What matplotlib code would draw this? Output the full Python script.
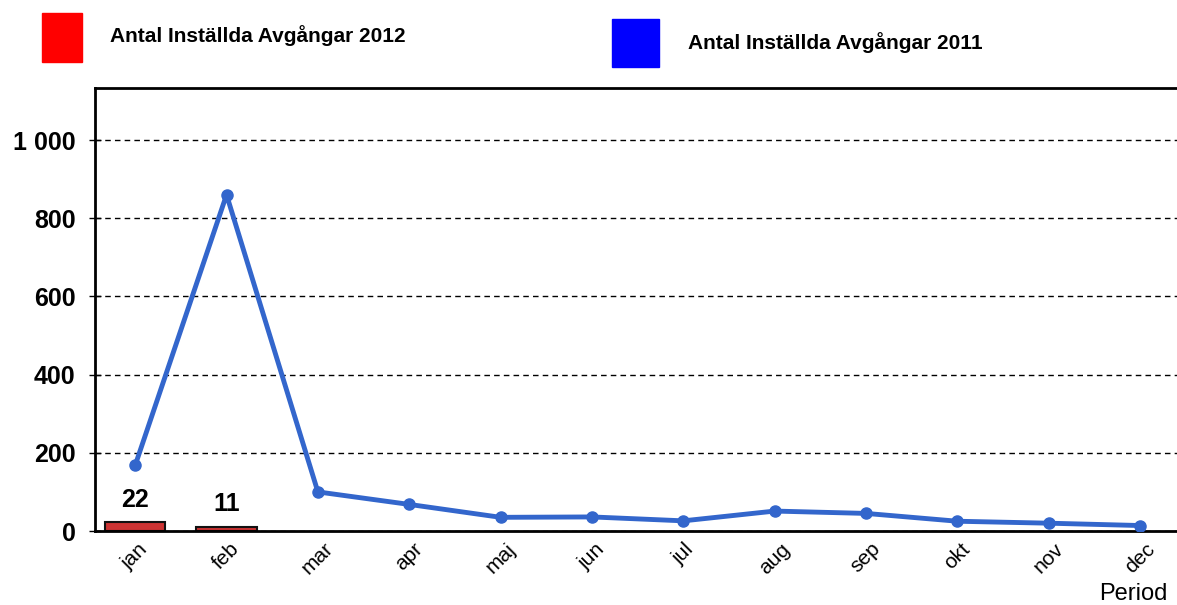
import numpy as np
import matplotlib.pyplot as plt
from matplotlib.ticker import FuncFormatter

plt.rcParams['font.family'] = ['Liberation Sans', 'DejaVu Sans']

# data
months = ['jan', 'feb', 'mar', 'apr', 'maj', 'jun', 'jul', 'aug', 'sep', 'okt', 'nov', 'dec']
cancelled_2012 = [22, 11]
cancelled_2011 = [168, 860, 100, 68, 35, 36, 26, 51, 45, 25, 20, 14]

fig = plt.figure(figsize=(11.77, 6.05), dpi=100)
ax = fig.add_axes([0.0807, 0.1223, 0.919, 0.7322])

x = np.arange(len(months))

# bars for 2012
ax.bar(x[:len(cancelled_2012)], cancelled_2012, width=0.66, color='#cc3333',
       edgecolor='#111111', linewidth=1.5, zorder=2)
for xi, v in zip(x, cancelled_2012):
    ax.text(xi, v + 27, str(v), ha='center', va='bottom', fontsize=18,
            fontweight='bold')

# line for 2011
ax.plot(x, cancelled_2011, color='#3366cc', linewidth=3.5, marker='o',
        markersize=8, zorder=3)

ax.set_xlim(-0.44, 11.4)
ax.set_ylim(0, 1133)
ax.set_yticks([0, 200, 400, 600, 800, 1000])
ax.yaxis.set_major_formatter(FuncFormatter(lambda v, p: f'{int(v):,}'.replace(',', ' ')))
ax.grid(axis='y', color='black', linestyle=(0, (4, 3)), linewidth=1, zorder=0)

ax.set_xticks(x)
ax.set_xticklabels(months, rotation=45, ha='center', fontsize=15)
ax.tick_params(axis='x', length=0, pad=6)
ax.tick_params(axis='y', direction='inout', length=8, width=1, labelsize=18, pad=10)
for lbl in ax.get_yticklabels():
    lbl.set_fontweight('bold')

for s in ['left', 'top', 'bottom']:
    ax.spines[s].set_linewidth(2)
ax.spines['right'].set_visible(False)

fig.text(0.9626, 1 - 600 / 605, 'Period', ha='center', va='baseline', fontsize=17)

# legend drawn as patches and text
fig.patches.append(plt.Rectangle((42 / 1177, 1 - 62 / 605), 40 / 1177, 49 / 605,
                                 transform=fig.transFigure, color='#ff0000'))
fig.text(110 / 1177, 1 - 36 / 605, 'Antal Inställda Avgångar 2012', ha='left',
         va='center', fontsize=15, fontweight='bold')
fig.patches.append(plt.Rectangle((612 / 1177, 1 - 67 / 605), 47 / 1177, 48 / 605,
                                 transform=fig.transFigure, color='#0000ff'))
fig.text(688 / 1177, 1 - 43 / 605, 'Antal Inställda Avgångar 2011', ha='left',
         va='center', fontsize=15, fontweight='bold')

fig.savefig('out.png', dpi=100)
